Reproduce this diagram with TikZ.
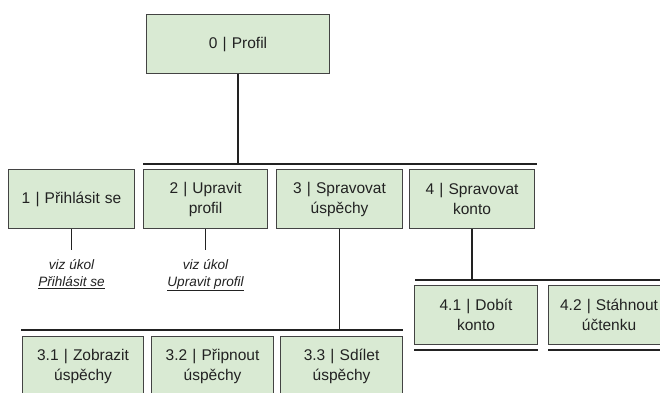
\documentclass[tikz,border=0pt]{standalone}
\usepackage{fontspec}
\setmainfont{Liberation Sans}
\definecolor{boxfill}{HTML}{D9EAD3}
\definecolor{boxline}{HTML}{434343}
\definecolor{txt}{HTML}{222222}

\begin{document}
\begin{tikzpicture}[x=1pt, y=-1pt,
		box/.style={draw=boxline, line width=1.1pt, fill=boxfill, text=txt,
			anchor=north west, minimum height=59pt, inner xsep=2pt, inner ysep=0pt,
			text width=#1, align=center, font=\fontsize{15.5}{20}\selectfont},
		bar/.style={line width=1.6pt, draw=txt},
		note/.style={text=txt, align=center, inner sep=0pt,
			font=\itshape\fontsize{13.6}{17}\selectfont}]
			% 1. 画布大小
			\useasboundingbox (0,0) rectangle (660,392);
			\clip (0,0) rectangle (660,392);
			\fill[white] (0,0) rectangle (660,392);
			
			% 2. 根节点
			\node[box=179pt] (root) at (146,14) {0 | Profil};
			
			% 3. 第一层
			\node[box=122pt] (p1) at (8,169) {1 | Přihlásit se};
			\node[box=120pt] (p2) at (143,169) {2 | Upravit\\profil};
			\node[box=122pt] (p3) at (276,169) {3 | Spravovat\\úspěchy};
			\node[box=121pt] (p4) at (409,169) {4 | Spravovat\\konto};
			
			% 4. 第二层
			\node[box=117pt] (p31) at (22,336) {3.1 | Zobrazit\\úspěchy};
			\node[box=118pt] (p32) at (151,336) {3.2 | Připnout\\úspěchy};
			\node[box=118pt] (p33) at (280,336) {3.3 | Sdílet\\úspěchy};
			\node[box=119pt] (p41) at (414,285) {4.1 | Dobít\\konto};
			\node[box=117pt] (p42) at (548,285) {4.2 | Stáhnout\\účtenku};
			
			% 5. 横线
			\coordinate (top-l) at (143,164);
			\coordinate (top-r) at (537,164);
			\coordinate (sub3-l) at (21,330);
			\coordinate (sub3-r) at (403,330);
			\coordinate (sub4-l) at (415,280);
			\coordinate (sub4-r) at (670,280);
			\draw[bar] (top-l) -- (top-r);
			\draw[bar] (sub3-l) -- (sub3-r);
			\draw[bar] (sub4-l) -- (sub4-r);
			\draw[bar] ([yshift=-5pt]p41.south west) -- ([yshift=-5pt]p41.south east);
			\draw[bar] ([yshift=-5pt]p42.south west) -- ([yshift=-5pt]p42.south east);
			
			% 6. 竖线
			\draw[bar] (root.south) -- (root.south |- top-l);
			\draw[bar] (p3.south) -- (p3.south |- sub3-l);
			\draw[bar] (p4.south) -- (p4.south |- sub4-l);
			
			% 7. 指向其他任务
			\coordinate (e1) at ([yshift=-21pt]p1.south);
			\coordinate (e2) at ([yshift=-21pt]p2.south);
			\draw[bar] (p1.south) -- (e1);
			\draw[bar] (p2.south) -- (e2);
			\node[note, anchor=north] (n1) at ([yshift=-9pt]e1) {viz úkol\\\underline{Přihlásit se}};
			\node[note, anchor=north] (n2) at ([yshift=-9pt]e2) {viz úkol\\\underline{Upravit profil}};
			
		\end{tikzpicture}
\end{document}
